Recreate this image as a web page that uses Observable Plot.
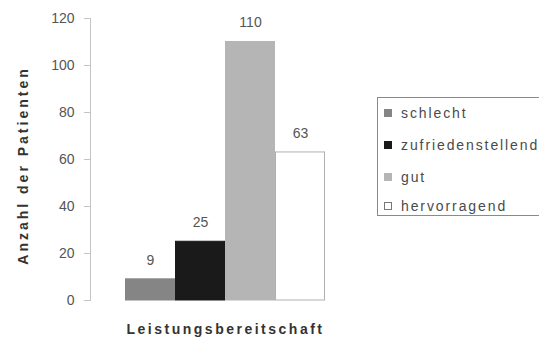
<!DOCTYPE html>
<html>
<head>
<meta charset="utf-8">
<script src="https://cdn.jsdelivr.net/npm/d3@7"></script>
<script src="https://cdn.jsdelivr.net/npm/@observablehq/plot@0.6"></script>
<style>
  html, body { margin: 0; padding: 0; background: #fff; overflow: hidden; }
  #wrap { position: relative; width: 539px; height: 341px; overflow: hidden; font-family: "Liberation Sans", Arial, sans-serif; }
  #legend { position: absolute; left: 377px; top: 97px; width: 180px; height: 119px;
            border: 1.5px solid #8a8a8a; box-sizing: border-box; background: #fff; }
  .item { position: absolute; left: 6px; font-size: 14px; letter-spacing: 1.9px; color: #4a4a4a; white-space: nowrap; line-height: 15px; }
  .sw { display: inline-block; width: 8px; height: 8px; margin-right: 9px; vertical-align: 1px; box-sizing: border-box; }
</style>
</head>
<body>
<div id="wrap"></div>
<script>
const categories = ["schlecht", "zufriedenstellend", "gut", "hervorragend"];
const counts = [9, 25, 110, 63];
const yTicks = [0, 20, 40, 60, 80, 100, 120];
const xTitle = "Leistungsbereitschaft";
const yTitle = "Anzahl der Patienten";
const colors = ["#858585", "#1a1a1a", "#b5b5b5", "#ffffff"];
const strokes = ["#858585", "#1a1a1a", "#b5b5b5", "#b0b0b0"];

const data = categories.map((c, i) => ({category: c, count: counts[i]}));

const chart = Plot.plot({
  width: 539,
  height: 341,
  marginLeft: 90,
  marginRight: 179,
  marginTop: 18,
  marginBottom: 41,
  style: {fontFamily: "Liberation Sans, Arial, sans-serif", background: "#fff"},
  x: {domain: categories, paddingInner: 0, paddingOuter: 0.7, axis: null},
  y: {domain: [0, 120], axis: null},
  color: {domain: categories, range: colors},
  marks: [
    Plot.frame({anchor: "left", stroke: "#c4c4c4", strokeWidth: 1}),
    Plot.axisY({ticks: yTicks, tickSize: 6, tickPadding: 10, stroke: "#c4c4c4",
                fontSize: 14, fill: "#555", label: null}),
    Plot.barY(data, {x: "category", y: "count", fill: "category",
                     stroke: (d, i) => strokes[i], strokeWidth: 1, insetLeft: 0.5, insetRight: 0.5}),
    Plot.text(data, {x: "category", y: "count", text: d => String(d.count), dy: -19,
                     fontSize: 14, fill: "#555", lineAnchor: "middle"}),
    Plot.text([xTitle], {frameAnchor: "bottom", dy: 29, fontSize: 14, fontWeight: "bold",
                         fill: "#333", lineAnchor: "middle", textAnchor: "middle"}),
    Plot.text([yTitle], {frameAnchor: "left", dx: -67, dy: 6, rotate: -90, fontSize: 14,
                         fontWeight: "bold", fill: "#333", lineAnchor: "middle", textAnchor: "middle"})
  ]
});

d3.select(chart).selectAll("text")
  .filter(function() { return this.textContent === xTitle; })
  .style("letter-spacing", "2.5px");
d3.select(chart).selectAll("text")
  .filter(function() { return this.textContent === yTitle; })
  .style("letter-spacing", "3px");

const wrap = document.getElementById("wrap");
wrap.appendChild(chart);

const legend = document.createElement("div");
legend.id = "legend";
const rowTops = [8, 40, 72, 101];
categories.forEach((c, i) => {
  const it = document.createElement("div");
  it.className = "item";
  it.style.top = rowTops[i] + "px";
  const sw = document.createElement("span");
  sw.className = "sw";
  sw.style.background = colors[i];
  sw.style.border = "1px solid " + (i === 3 ? "#777" : strokes[i]);
  it.appendChild(sw);
  it.appendChild(document.createTextNode(c));
  legend.appendChild(it);
});
wrap.appendChild(legend);
</script>
</body>
</html>
